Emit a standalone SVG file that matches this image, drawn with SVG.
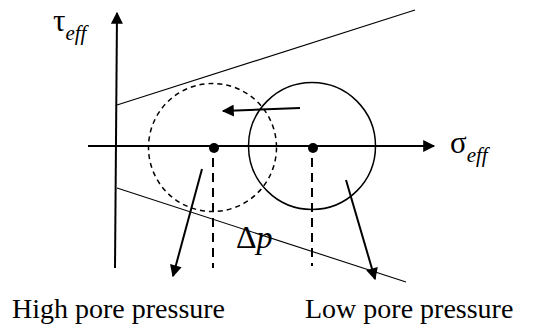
<svg xmlns="http://www.w3.org/2000/svg" width="539" height="331" viewBox="0 0 539 331">
<style>
.ax{stroke:#000;stroke-width:2;fill:none}
.thin{stroke:#000;stroke-width:1.1;fill:none}
.circ{stroke:#000;stroke-width:1.5;fill:none}
.dash{stroke:#000;stroke-width:1.5;fill:none;stroke-dasharray:5,4}
.vd{stroke:#000;stroke-width:2;fill:none;stroke-dasharray:9,6}
.arr{stroke:#000;stroke-width:2;fill:none}
.t,.t tspan{font-family:"Liberation Serif","DejaVu Serif",serif;fill:#000}
.it{font-style:italic}
</style>
<defs>
<marker id="ah" viewBox="0 0 10 10" refX="9" refY="5" markerWidth="14" markerHeight="12" markerUnits="userSpaceOnUse" orient="auto">
<path d="M0,0 L10,5 L0,10 z" fill="#000"/>
</marker>
</defs>
<g id="connectors">
<line class="ax" x1="115" y1="268" x2="117" y2="13" marker-end="url(#ah)"/>
<line class="ax" x1="88" y1="146" x2="434" y2="146" marker-end="url(#ah)"/>
<line class="thin" x1="117" y1="105" x2="415" y2="10"/>
<line class="thin" x1="117" y1="188" x2="406" y2="282"/>
<line class="vd" x1="213" y1="158" x2="213" y2="268"/>
<line class="vd" x1="312" y1="158" x2="312" y2="266"/>
<line class="arr" x1="300" y1="108" x2="223" y2="111" marker-end="url(#ah)"/>
<line class="arr" x1="202" y1="169" x2="173" y2="276" marker-end="url(#ah)"/>
<line class="arr" x1="346" y1="180" x2="375" y2="279" marker-end="url(#ah)"/>
</g>
<g id="dashed-circle">
<circle class="dash" cx="212.5" cy="147.5" r="64"/>
<circle cx="214" cy="148" r="5" fill="#000"/>
</g>
<g id="solid-circle">
<circle class="circ" cx="312" cy="146" r="63.5"/>
<circle cx="313" cy="148" r="5" fill="#000"/>
</g>
<g id="labels">
<text class="t" x="53" y="31" font-size="31">τ<tspan class="it" font-size="21" dy="9">eff</tspan></text>
<text class="t" x="450" y="153" font-size="31">σ<tspan class="it" font-size="21" dy="9">eff</tspan></text>
<text class="t" x="236" y="248" font-size="32">Δ<tspan class="it">p</tspan></text>
<text class="t" x="12" y="318" font-size="28">High pore pressure</text>
<text class="t" x="305" y="318" font-size="28">Low pore pressure</text>
</g>
</svg>
